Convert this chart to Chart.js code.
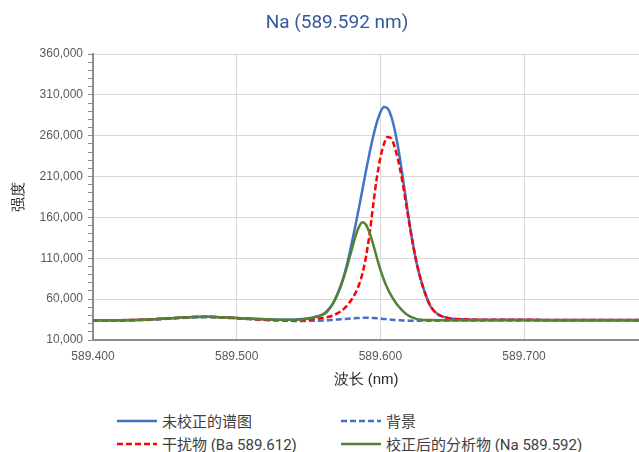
<!DOCTYPE html>
<html>
<head>
  <meta charset="utf-8">
  <title>Na (589.592 nm)</title>
  <script src="https://cdn.jsdelivr.net/npm/chart.js"></script>
  <style>
    body { margin: 0; background: #fff; font-family: Roboto, "Noto Sans CJK SC", sans-serif; }
    #wrap { position: relative; width: 639px; height: 452px; }
    #title { position: absolute; top: 8px; left: 0; width: 639px; padding-left: 35px; box-sizing: border-box;
             text-align: center; font-size: 19px; line-height: 28px; color: #35599b; }
    #box { position: absolute; top: 0; left: 0; width: 639px; height: 400px; }
    #legend { position: absolute; top: 409px; left: 117px; display: grid; grid-template-columns: 224px auto; }
    .item { display: flex; align-items: center; height: 23px; font-size: 15px; color: #404040; white-space: nowrap; }
    .item svg { margin-right: 5px; }
  </style>
</head>
<body>
  <div id="wrap">
    <div id="box"><canvas id="myChart"></canvas></div>
    <div id="title">Na (589.592 nm)</div>
    <div id="legend"></div>
  </div>

  <script>
    // wavelength (nm)
    let wavelength = [
      589.400, 589.410, 589.420, 589.430, 589.440, 589.450, 589.460, 589.470, 589.480, 589.490,
      589.500, 589.510, 589.520, 589.530, 589.540, 589.545, 589.550, 589.555, 589.560, 589.5625,
      589.565, 589.5675, 589.570, 589.5725, 589.575, 589.5775, 589.580, 589.5825, 589.585, 589.5875,
      589.590, 589.5925, 589.595, 589.5975, 589.600, 589.6025, 589.605, 589.6075, 589.610, 589.6125,
      589.615, 589.6175, 589.620, 589.6225, 589.625, 589.6275, 589.630, 589.635, 589.640, 589.645,
      589.650, 589.660, 589.670, 589.680, 589.700, 589.720, 589.740, 589.760, 589.780
    ];

    // 未校正的谱图
    let uncorrected = [
      34100, 34200, 34300, 34600, 35200, 36200, 37300, 38200, 38400, 37800,
      36900, 36000, 35300, 34900, 34900, 35600, 36500, 38600, 41500, 45000,
      49800, 56500, 66000, 77000, 91000, 108000, 128000, 149000, 171000, 194000,
      217000, 239000, 259000, 276000, 288500, 295000, 293500, 284000, 267000, 244000,
      216000, 186000, 156000, 129000, 106000, 88000, 73000, 51000, 41500, 37800,
      36000, 35200, 34900, 34800, 34700, 34600, 34600, 34500, 34500
    ];

    // 背景
    let background = [
      33600, 33700, 33800, 34100, 34700, 35700, 36800, 37700, 37900, 37300,
      36400, 35400, 34500, 33800, 33400, 33300, 33400, 33600, 33900, 34100,
      34400, 34700, 35000, 35300, 35700, 36100, 36400, 36700, 36900, 37100,
      37200, 37100, 36900, 36600, 36200, 35800, 35300, 34900, 34500, 34200,
      34000, 33800, 33700, 33600, 33500, 33500, 33500, 33600, 33700, 33800,
      33800, 33900, 33900, 34000, 34000, 34000, 34000, 34000, 34000
    ];

    // 干扰物 (Ba 589.612)
    let interference = [
      34100, 34200, 34300, 34600, 35200, 36200, 37300, 38200, 38400, 37800,
      36900, 35800, 34800, 34200, 34000, 34300, 34800, 35800, 37000, 37800,
      38800, 40300, 42500, 45300, 48800, 53500, 59500, 67000, 77000, 91000,
      112000, 140000, 175000, 208000, 233000, 250000, 258500, 257000, 246000, 229000,
      207000, 181000, 154000, 129000, 106000, 88000, 73000, 51000, 41500, 37800,
      36000, 35200, 34900, 34800, 34700, 34600, 34600, 34500, 34500
    ];

    // 校正后的分析物 (Na 589.592)
    let corrected = [
      34100, 34200, 34300, 34600, 35200, 36200, 37300, 38200, 38400, 37800,
      36900, 36000, 35300, 34900, 34700, 35200, 36000, 38000, 41000, 44000,
      49000, 56000, 65000, 76000, 89000, 104000, 120000, 136000, 148000, 154000,
      151000, 141000, 127000, 111000, 96000, 83500, 73000, 64500, 57500, 51500,
      46500, 42500, 39500, 37300, 35900, 35000, 34600, 34400, 34300, 34300,
      34300, 34300, 34300, 34300, 34300, 34300, 34300, 34300, 34300
    ];

    let xTicks = [589.4, 589.5, 589.6, 589.7];
    let yMajorTicks = [10000, 60000, 110000, 160000, 210000, 260000, 310000, 360000];
    let yMinorStep = 10000;

    function toPoints(values) {
      let pts = [];
      for (let i = 0; i < values.length; i++) {
        pts.push({ x: wavelength[i], y: values[i] });
      }
      return pts;
    }

    function isMajor(v) {
      return yMajorTicks.indexOf(v) !== -1;
    }

    let ctx = document.getElementById('myChart').getContext('2d');

    let myChart = new Chart(ctx, {
      type: 'line',
      data: {
        datasets: [
          { label: '未校正的谱图', data: toPoints(uncorrected), borderColor: '#4472c4', borderWidth: 2.5, order: 3 },
          { label: '背景', data: toPoints(background), borderColor: '#4472c4', borderWidth: 2.5, borderDash: [6, 3], order: 4 },
          { label: '干扰物 (Ba 589.612)', data: toPoints(interference), borderColor: '#ff0000', borderWidth: 2.5, borderDash: [6, 3], order: 2 },
          { label: '校正后的分析物 (Na 589.592)', data: toPoints(corrected), borderColor: '#548235', borderWidth: 2.5, order: 1 }
        ]
      },
      options: {
        responsive: true,
        maintainAspectRatio: false,
        animation: false,
        layout: { padding: { top: 54, left: 0, right: 0, bottom: 0 } },
        elements: {
          point: { radius: 0 },
          line: { fill: false, cubicInterpolationMode: 'monotone' }
        },
        plugins: {
          legend: { display: false },
          title: { display: false },
          tooltip: { enabled: false }
        },
        scales: {
          x: {
            type: 'linear',
            min: 589.4,
            max: 589.78,
            afterBuildTicks: s => { s.ticks = xTicks.map(v => ({ value: v })); },
            afterFit: s => { s.height = 60; },
            grid: { color: '#d9d9d9', drawTicks: false },
            border: { color: '#8c8c8c', width: 2 },
            ticks: {
              padding: 9,
              color: '#595959',
              font: { size: 12 },
              callback: v => v.toFixed(3)
            },
            title: {
              display: true,
              text: '波长 (nm)',
              color: '#262626',
              font: { size: 15 },
              padding: { top: 0, bottom: 11 }
            }
          },
          y: {
            type: 'linear',
            min: 10000,
            max: 360000,
            afterBuildTicks: s => {
              let t = [];
              for (let v = 10000; v <= 360000; v += yMinorStep) t.push({ value: v });
              s.ticks = t;
            },
            afterFit: s => { s.width = 93; },
            grid: {
              color: c => (c.tick && isMajor(c.tick.value)) ? '#d9d9d9' : 'rgba(0,0,0,0)',
              tickColor: '#8c8c8c',
              tickLength: 5
            },
            border: { color: '#8c8c8c', width: 2 },
            ticks: {
              autoSkip: false,
              padding: 5,
              color: '#595959',
              font: { size: 12 },
              callback: v => isMajor(v) ? v.toLocaleString('en-US') : ''
            },
            title: {
              display: true,
              text: '强度',
              color: '#262626',
              font: { size: 15 },
              padding: { top: 10, bottom: 0 }
            }
          }
        }
      }
    });

    // legend in two columns, built from the datasets
    let legend = document.getElementById('legend');
    myChart.data.datasets.forEach(ds => {
      let item = document.createElement('div');
      item.className = 'item';
      let dash = ds.borderDash ? ' stroke-dasharray="6 3"' : '';
      item.innerHTML = '<svg width="40" height="6"><line x1="0" y1="3" x2="40" y2="3" stroke="' + ds.borderColor +
        '" stroke-width="2.5"' + dash + '/></svg><span>' + ds.label + '</span>';
      legend.appendChild(item);
    });
  </script>
</body>
</html>
